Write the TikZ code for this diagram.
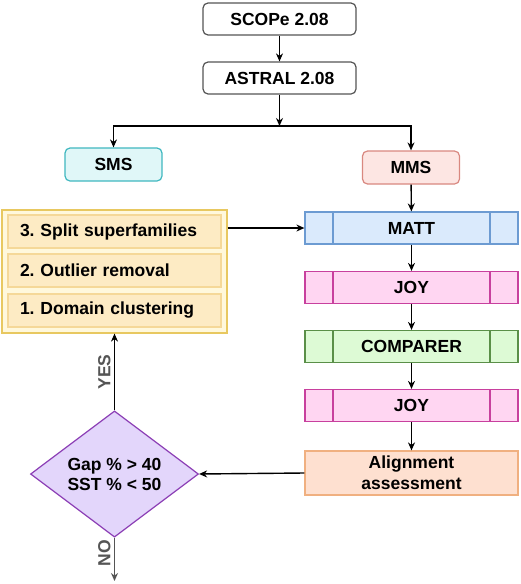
\documentclass[tikz,border=0pt]{standalone}
\usepackage{fontspec}
\setmainfont{Liberation Sans}
\usetikzlibrary{shapes.geometric,arrows.meta}
\frenchspacing
\definecolor{bordgray}{HTML}{555555}
\definecolor{smsfill}{HTML}{E0F7F8}\definecolor{smsdraw}{HTML}{40B8C0}
\definecolor{mmsfill}{HTML}{FDE6E3}\definecolor{mmsdraw}{HTML}{D98880}
\definecolor{mattfill}{HTML}{DAEAFC}\definecolor{mattdraw}{HTML}{6C9BD2}
\definecolor{joyfill}{HTML}{FFD6F2}\definecolor{joydraw}{HTML}{C8409E}
\definecolor{compfill}{HTML}{DDFAD5}\definecolor{compdraw}{HTML}{5A8F48}
\definecolor{alfill}{HTML}{FEE0D0}\definecolor{aldraw}{HTML}{F0B080}
\definecolor{outfill}{HTML}{FFF8DC}\definecolor{outdraw}{HTML}{E8C860}
\definecolor{infill}{HTML}{FDEBC4}\definecolor{indraw}{HTML}{F5D898}
\definecolor{diafill}{HTML}{E3D6FB}\definecolor{diadraw}{HTML}{8B3DB5}
\definecolor{lblgray}{HTML}{555555}
\tikzset{
  every node/.style={font=\bfseries\fontsize{17.5}{21}\selectfont},
  rbox/.style={draw=bordgray, fill=white, line width=1.2pt, rounded corners=5pt,
    minimum width=153pt, minimum height=32pt, inner sep=0pt},
  cbox/.style 2 args={draw=#2, fill=#1, line width=1.2pt, rounded corners=5pt,
    minimum width=97pt, minimum height=33pt, inner sep=0pt},
  proc/.style 2 args={draw=#2, fill=#1, line width=1.2pt,
    minimum width=213pt, minimum height=32pt, inner sep=0pt,
    path picture={
      \draw[#2, line width=1.2pt]
        ([xshift=28pt]path picture bounding box.north west) -- ([xshift=28pt]path picture bounding box.south west)
        ([xshift=-28pt]path picture bounding box.north east) -- ([xshift=-28pt]path picture bounding box.south east);
    }},
  stepitem/.style={draw=indraw, fill=infill, line width=1.2pt,
    minimum width=213pt, minimum height=33pt, text width=189pt, align=left, inner xsep=12pt, inner ysep=0pt},
  arr/.style={line width=1.4pt, -{Stealth[length=8pt,width=7pt]}},
  lbl/.style={text=lblgray, rotate=90}
}
\begin{document}
\begin{tikzpicture}[x=1pt,y=-1pt]
\useasboundingbox (0,0) rectangle (520,584);
\fill[white] (0,0) rectangle (520,584);
% top
\node[rbox] (scope) at (279.5,19) {SCOPe 2.08};
\node[rbox] (astral) at (279.5,78) {ASTRAL 2.08};
\node[cbox={smsfill}{smsdraw}] (sms) at (113.5,164.5) {SMS};
\node[cbox={mmsfill}{mmsdraw}] (mms) at (411,167.5) {MMS};
\coordinate (j) at (279.5,126);
% right column
\node[proc={mattfill}{mattdraw}] (matt) at (411.5,228) {MATT};
\node[proc={joyfill}{joydraw}] (joy1) at (411.5,287.5) {JOY};
\node[proc={compfill}{compdraw}] (comp) at (411.5,346.5) {COMPARER};
\node[proc={joyfill}{joydraw}] (joy2) at (411.5,405.5) {JOY};
\node[draw=aldraw, fill=alfill, line width=1.2pt, minimum width=213pt, minimum height=44pt,
  inner sep=0pt, align=center] (align) at (411.5,473) {Alignment\\assessment};
% left column
\node[draw=outdraw, fill=outfill, line width=1.2pt, minimum width=225pt, minimum height=123pt, inner sep=0pt]
  (outer) at (114.5,271.5) {};
\node[stepitem] (split) at (114.5,231.5) {3. Split superfamilies};
\node[stepitem] (outl) at (114.5,270.5) {2. Outlier removal};
\node[stepitem] (dom) at (114.5,310.5) {1. Domain clustering};
\node[diamond, draw=diadraw, fill=diafill, line width=1.2pt, minimum width=168pt, minimum height=111pt,
  inner sep=0pt, align=center, font=\bfseries\fontsize{17.5}{20}\selectfont] (dia) at (114.5,474) {Gap \% > 40\\SST \% < 50};
\coordinate (noend) at (114.5,581);
% connectors
\draw[arr] (scope) -- (astral);
\draw[arr] (astral) -- (j);
\draw[arr] (j) -| (sms);
\draw[arr] (j) -| (mms);
\draw[arr] (mms) -- (matt);
\draw[arr] (matt) -- (joy1);
\draw[arr] (joy1) -- (comp);
\draw[arr] (comp) -- (joy2);
\draw[arr] (joy2) -- (align);
\draw[arr] (outer.east |- matt) -- (matt.west);
\draw[arr] (align.west) -- (dia.east);
\draw[arr] (dia.north) -- node[lbl, anchor=south] {YES} (outer.south);
\draw[arr, draw=lblgray, line width=1.2pt] (dia.south) -- node[lbl, pos=0.35, anchor=south] {NO} (noend);
\end{tikzpicture}
\end{document}
